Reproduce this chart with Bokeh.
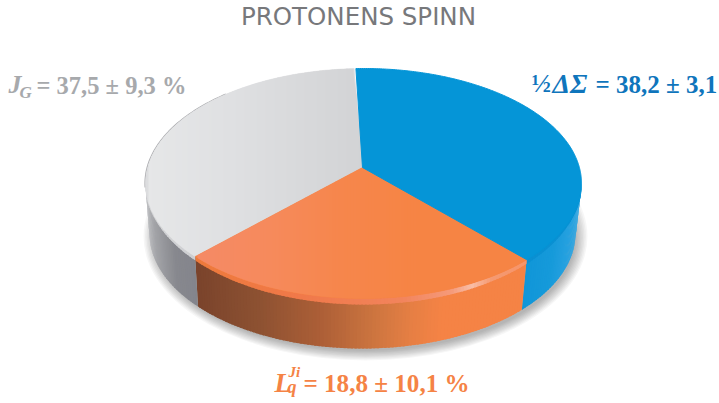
import numpy as np
from bokeh.plotting import figure
from bokeh.embed import file_html
from bokeh.resources import INLINE
from bokeh.core.properties import value

# Slices as drawn (share of the disc in the picture)
slice_names = ["spin", "orbital", "gluon"]
slice_shares = [37.1, 27.5, 35.4]
slice_colors = ["#0595d7", "#f68444", "#dcdddf"]
start_angle = -2.0

title_text = "PROTONENS SPINN"
label_gluon = "= 37,5 ± 9,3 %"
label_spin = "= 38,2 ± 3,1"
label_orbital = "= 18,8 ± 10,1 %"

W, H = 719, 403
OFF = 0
cx, cy = 363 - OFF, 183 - OFF
rx, ry = 218, 115
bx, by, brx, bry = 362 - OFF, 233 - OFF, 213, 115
ax, ay = 362 - OFF, 167 - OFF

p = figure(width=W, height=H, x_range=(0, W), y_range=(H, 0), toolbar_location=None,
           output_backend="svg", min_border=0, outline_line_color=None,
           background_fill_color="white", border_fill_color="white")
p.axis.visible = False
p.grid.visible = False


def hexrgb(c):
    return np.array([int(c[i:i + 2], 16) for i in (1, 3, 5)], float)


def ramp(x, stops):
    xs = [s[0] - OFF for s in stops]
    cols = np.array([hexrgb(s[1]) for s in stops])
    r = [np.interp(x, xs, cols[:, k]) for k in range(3)]
    return "#%02x%02x%02x" % tuple(int(round(v)) for v in r)


def top(t):
    t = np.radians(t)
    return cx + rx * np.sin(t), cy - ry * np.cos(t)


def bottom(t):
    t = np.radians(t)
    return bx + brx * np.sin(t), by - bry * np.cos(t)


edges = start_angle + np.cumsum([0] + [s / sum(slice_shares) * 360 for s in slice_shares])

# soft shadow
for k in range(9):
    p.ellipse(x=[cx + 2], y=[by + 3 + k * 0.3], width=[2 * (brx + 9 - k * 1.5)], height=[2 * (bry + 9 - k * 1.5)],
              fill_color="#000000", fill_alpha=0.036, line_color=None)

side_ramps = [
    [(523, "#1096d8"), (550, "#169ada"), (565, "#24a0df"), (581, "#34a8e3")],
    [(199, "#7b442c"), (260, "#8e5232"), (320, "#ad5f37"), (370, "#cb743f"), (410, "#e67f44"), (440, "#f58345"), (525, "#f58345")],
    [(145, "#bdbec1"), (155, "#a2a3a7"), (175, "#87888e"), (199, "#83848c")],
]
bevel_ramps = [
    [(523, "#0a90d2"), (581, "#0a90d2")],
    [(199, "#ee7a3c"), (300, "#f0794a"), (400, "#f2845c"), (450, "#f59a7a"), (470, "#f9bda6"), (490, "#f59a72"), (525, "#f69468")],
    [(145, "#d4d5d7"), (199, "#cdced1")],
]

# walls and rounded rim of the front half, drawn from the same slice angles
for i in range(3):
    a0, a1 = max(edges[i], 90), min(edges[i + 1], 270)
    if a1 <= a0:
        continue
    ts = np.arange(a0, a1, 1.0)
    for t in ts:
        t1 = min(t + 1.6, a1)
        tt = np.array([t, t1])
        x0, y0 = top(tt)
        x1, y1 = bottom(tt)
        mid = (x0.mean() + x1.mean()) / 2
        p.patch(np.r_[x0, x1[::-1]], np.r_[y0, y1[::-1]], fill_color=ramp(mid, side_ramps[i]), line_color=None)
    for t in ts:
        t1 = min(t + 1.6, a1)
        tt = np.array([t, t1])
        x0, y0 = top(tt)
        p.patch(np.r_[x0, x0[::-1]], np.r_[y0 - 1, (y0 + 6 * (-np.cos(np.radians(tt))).clip(0.35, 1))[::-1]],
                fill_color=ramp(x0.mean(), bevel_ramps[i]), line_color=None)

# thin edge on the upper left of the grey slice
tl = np.arange(268, 322, 1.0)
xl, yl = top(tl)
p.line(xl - 0.5, yl, line_color="#adaeb1", line_width=1.2)


def slice_poly(i):
    t = np.arange(edges[i], edges[i + 1] + 0.01, 0.5)
    x, y = top(t)
    return np.r_[ax, x], np.r_[ay, y]


def strips(i, stops, step=3):
    px, py = slice_poly(i)
    p.patch(px, py, fill_color=slice_colors[i], line_color=slice_colors[i], line_width=0.5)
    qx, qy = np.r_[px, px[0]], np.r_[py, py[0]]
    for x in np.arange(np.floor(px.min()), px.max(), step):
        x1 = x + step + 1
        low, high = [], []
        for xv in (x, min(x1, px.max())):
            cr = []
            for j in range(len(qx) - 1):
                a, b = qx[j], qx[j + 1]
                if (a - xv) * (b - xv) <= 0 and a != b:
                    cr.append(qy[j] + (xv - a) / (b - a) * (qy[j + 1] - qy[j]))
            low.append(min(cr) if cr else np.nan)
            high.append(max(cr) if cr else np.nan)
        if np.isnan(low + high).any():
            continue
        xv0, xv1 = x, min(x1, px.max())
        p.patch([xv0, xv1, xv1, xv0], [low[0], low[1], high[1], high[0]],
                fill_color=ramp(x + step / 2, stops), line_color=None)


strips(2, [(145, "#e6e7e8"), (230, "#dfe0e2"), (300, "#d8d9db"), (362, "#d2d3d5")])
strips(1, [(197, "#f58a66"), (270, "#f68a5c"), (340, "#f6864c"), (420, "#f68444"), (527, "#f68444")])
px, py = slice_poly(0)
p.patch(px, py, fill_color=slice_colors[0], line_color=slice_colors[0], line_width=1)

serif = value("Liberation Serif")


def txt(x, y, s, size, color, style="bold", font=serif, align="left"):
    # y is the wanted baseline of the text
    p.text(x=[x - OFF], y=[y - OFF - 0.33 * size], text=[s], text_font=font, text_font_size=f"{size}px",
           text_font_style=style, text_color=color, text_baseline="middle", text_align=align)


txt(358, 24.5, title_text, 24.5, "#77787b", "normal", value("DejaVu Sans"), "center")

GR, BL, OR = "#a7a9ac", "#0f75bc", "#f58345"
txt(8, 93, "J", 26, GR, "bold italic")
txt(19, 98, "G", 17, GR, "bold italic")
txt(36, 93, label_gluon, 24.5, GR)

txt(531, 92, "½", 26, BL)
txt(552, 92, "ΔΣ", 28, BL, "bold italic")
txt(595, 92, label_spin, 25, BL)

txt(274, 391, "L", 27, OR, "bold italic")
txt(288, 376, "Ji", 15, OR, "bold italic")
txt(287, 392, "q", 18, OR, "bold italic")
txt(303, 391, label_orbital, 25.1, OR)

open("out.html", "w").write(file_html(p, INLINE))
